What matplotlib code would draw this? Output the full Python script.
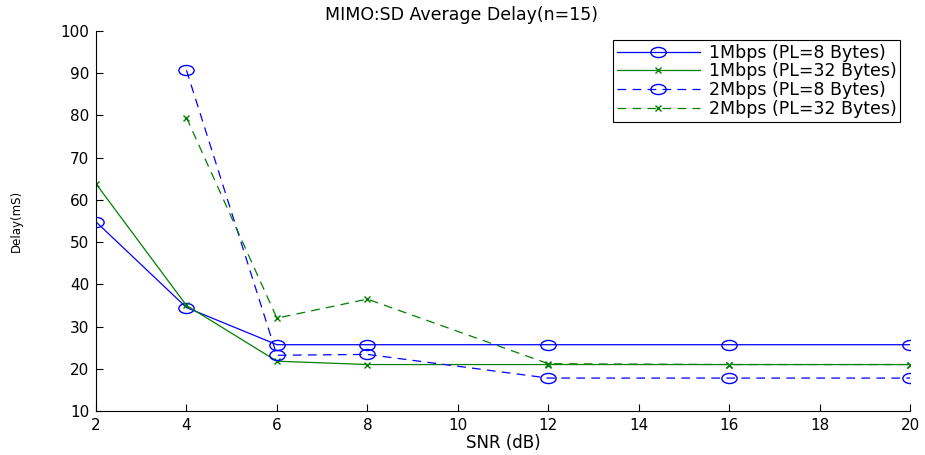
import numpy as np
import matplotlib.pyplot as plt
from matplotlib.path import Path
from matplotlib.transforms import Affine2D

plt.rcParams['font.family'] = ['DejaVu Sans']

snr = [2, 4, 6, 8, 12, 16, 20]
snr_2m = [4, 6, 8, 12, 16, 20]

d_1m_8 = [54.8, 34.5, 25.7, 25.7, 25.7, 25.7, 25.7]
d_1m_32 = [63.8, 35.0, 21.8, 21.0, 21.0, 21.0, 21.0]
d_2m_8 = [90.7, 23.2, 23.4, 17.8, 17.8, 17.8]
d_2m_32 = [79.5, 32.0, 36.5, 21.2, 21.0, 21.0]

# circles in the original come out as flat ellipses
ellipse = Path.unit_circle().transformed(Affine2D().scale(1, 0.66))

fig = plt.figure(figsize=(9.25, 4.55), dpi=100)
ax = fig.add_axes([0.1038, 0.0967, 0.88, 0.8352])

ax.plot(snr, d_1m_8, '-', color='blue', marker=ellipse, mfc='none', ms=11, lw=0.9,
        label='1Mbps (PL=8 Bytes)')
ax.plot(snr, d_1m_32, '-', color='green', marker='x', ms=5, lw=0.9,
        label='1Mbps (PL=32 Bytes)')
ax.plot(snr_2m, d_2m_8, '--', color='blue', marker=ellipse, mfc='none', ms=11, lw=0.9,
        dashes=(7, 5), label='2Mbps (PL=8 Bytes)')
ax.plot(snr_2m, d_2m_32, '--', color='green', marker='x', ms=5, lw=0.9,
        dashes=(7, 5), label='2Mbps (PL=32 Bytes)')

ax.set_xlim(2, 20)
ax.set_ylim(10, 100)
ax.set_xticks(np.arange(2, 21, 2))
ax.set_yticks(np.arange(10, 101, 10))
ax.tick_params(direction='in', length=5, labelsize=11, pad=5)
ax.spines['top'].set_visible(False)
ax.spines['right'].set_visible(False)

# title is centred on the figure, not on the axes
ax.set_title('MIMO:SD Average Delay(n=15)', fontsize=12.5, pad=8, x=0.4496)
ax.set_xlabel('SNR (dB)', fontsize=12, labelpad=1)
ax.set_ylabel('Delay(mS)', fontsize=8.5, labelpad=27)

leg = ax.legend(loc='upper right', bbox_to_anchor=(0.9877, 0.976), fontsize=12.5,
                fancybox=False, framealpha=1, edgecolor='black',
                handlelength=4.8, handletextpad=0.5, borderpad=0.2,
                labelspacing=0.05, borderaxespad=0)
leg.get_frame().set_linewidth(0.8)

fig.savefig('out.png', dpi=100)
